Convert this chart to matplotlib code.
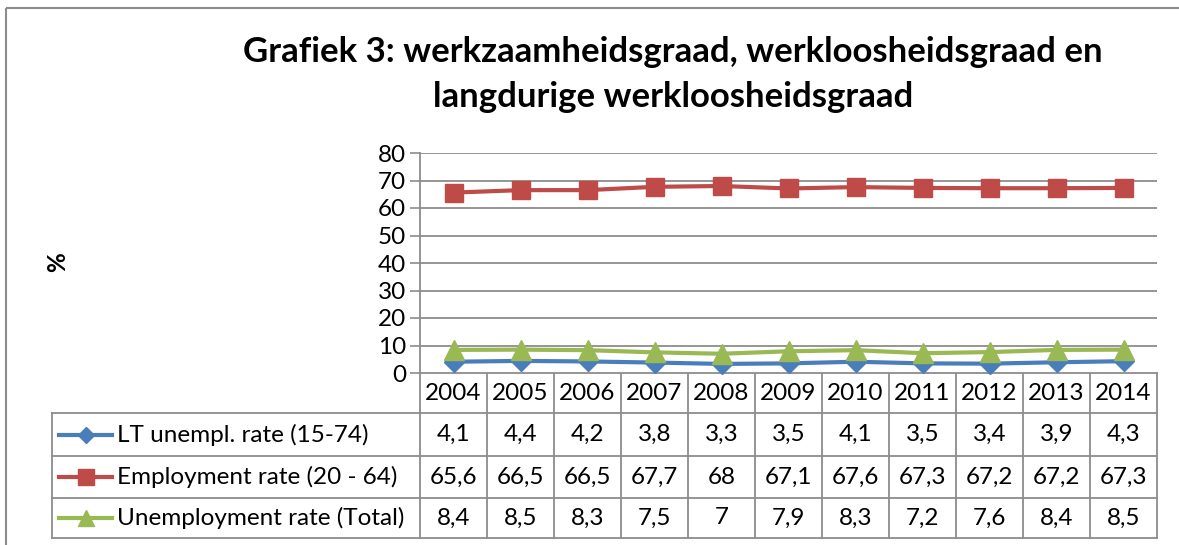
import matplotlib.pyplot as plt
import matplotlib.transforms as mtransforms
from matplotlib.patches import Rectangle

# data
years = ['2004', '2005', '2006', '2007', '2008', '2009', '2010', '2011', '2012', '2013', '2014']
lt_unempl = [4.1, 4.4, 4.2, 3.8, 3.3, 3.5, 4.1, 3.5, 3.4, 3.9, 4.3]
employment = [65.6, 66.5, 66.5, 67.7, 68, 67.1, 67.6, 67.3, 67.2, 67.2, 67.3]
unempl_total = [8.4, 8.5, 8.3, 7.5, 7, 7.9, 8.3, 7.2, 7.6, 8.4, 8.5]
series_names = ['LT unempl. rate (15-74)', 'Employment rate (20 - 64)', 'Unemployment rate (Total)']
series_vals = [lt_unempl, employment, unempl_total]
y_ticks = [0, 10, 20, 30, 40, 50, 60, 70, 80]

colors = ['#4A7EBB', '#BE4B48', '#98B954']
markers = ['D', 's', '^']
msizes = [10, 13, 14]
grid_c = '#8C8C8C'
fs = 17.5

plt.rcParams['font.family'] = ['Lato', 'DejaVu Sans']

W, H = 1179, 545
fig = plt.figure(figsize=(W / 100, H / 100), dpi=100)

# overlay in pixel coordinates for border, title and table
ov = fig.add_axes([0, 0, 1, 1])
ov.set_xlim(0, W)
ov.set_ylim(H, 0)
ov.axis('off')
ov.add_patch(Rectangle((6, 8), W, H, fill=False, ec='#8C8C8C', lw=1.5))

ov.text(673, 52, 'Grafiek 3: werkzaamheidsgraad, werkloosheidsgraad en',
        ha='center', va='center', fontsize=25, fontweight='bold')
ov.text(673, 97, 'langdurige werkloosheidsgraad',
        ha='center', va='center', fontsize=25, fontweight='bold')
ov.text(58, 262, '%', ha='center', va='center', fontsize=fs, fontweight='bold', rotation=90)

# plot area
left, right, top, bottom = 420, 1157, 153, 373
ax = fig.add_axes([left / W, 1 - bottom / H, (right - left) / W, (bottom - top) / H])
x = list(range(len(years)))
for vals, c, m, ms in zip(series_vals, colors, markers, msizes):
    ax.plot(x, vals, color=c, lw=3, marker=m, markersize=ms, zorder=3, clip_on=False)
ax.set_xlim(-0.5, len(years) - 0.5)
ax.set_ylim(0, 80)
ax.set_yticks(y_ticks)
ax.set_yticklabels([str(t) for t in y_ticks], fontsize=fs)
ax.tick_params(axis='y', length=7, width=1.2, color=grid_c, pad=3)
ax.set_xticks([])
ax.yaxis.grid(True, color=grid_c, lw=1.3)
ax.set_axisbelow(True)
for s in ['top', 'right', 'bottom']:
    ax.spines[s].set_visible(False)
ax.spines['left'].set_color(grid_c)
ax.spines['left'].set_linewidth(1.3)

# data table
tr = mtransforms.blended_transform_factory(ax.transData, ov.transData)
row_edges = [373, 413, 456, 498, 538]
tbl_left = 52
for i in range(len(years) + 1):
    ov.plot([i - 0.5, i - 0.5], [row_edges[0], row_edges[-1]], color=grid_c, lw=1.3,
            transform=tr, clip_on=False)
ov.plot([-0.5, len(years) - 0.5], [row_edges[0]] * 2, color=grid_c, lw=1.3,
        transform=tr, clip_on=False)
for ye in row_edges[1:]:
    ov.plot([tbl_left, right], [ye, ye], color=grid_c, lw=1.3, clip_on=False)
ov.plot([tbl_left, tbl_left], [row_edges[1], row_edges[-1]], color=grid_c, lw=1.3)

for i, yr in enumerate(years):
    ov.text(i, (row_edges[0] + row_edges[1]) / 2, yr, ha='center', va='center',
            fontsize=fs, transform=tr)

for r, (name, vals, c, m, ms) in enumerate(zip(series_names, series_vals, colors, markers, msizes)):
    yc = (row_edges[r + 1] + row_edges[r + 2]) / 2
    ov.plot([59, 112], [yc, yc], color=c, lw=3)
    ov.plot([85.5], [yc], color=c, marker=m, markersize=ms * 0.85)
    ov.text(117, yc, name, ha='left', va='center', fontsize=fs)
    for i, v in enumerate(vals):
        ov.text(i, yc, '{:g}'.format(v).replace('.', ','), ha='center', va='center',
                fontsize=fs, transform=tr)

fig.savefig('out.png', dpi=100)
